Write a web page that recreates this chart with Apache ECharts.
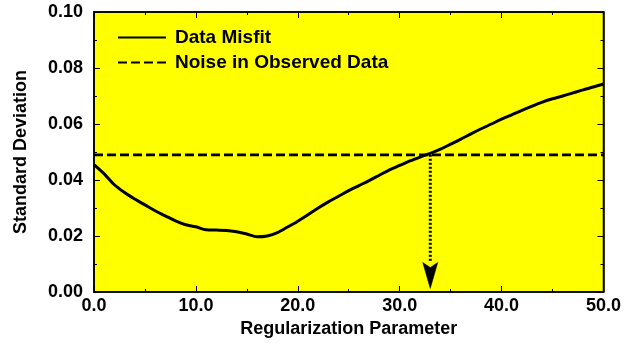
<!DOCTYPE html>
<html>
<head>
<meta charset="utf-8">
<script src="https://cdn.jsdelivr.net/npm/echarts@6/dist/echarts.min.js"></script>
<style>
  html, body { margin: 0; padding: 0; background: #ffffff; }
  #chart { width: 624px; height: 350px; }
</style>
</head>
<body>
<div id="chart"></div>
<script>
// Regularization parameter samples and the resulting data misfit
const regParam = [0, 1, 2, 3, 4, 5, 6, 7, 8, 9, 10, 11, 12, 13, 14, 15, 16, 17, 18, 19,
  20, 21, 22, 23, 24, 25, 26, 27, 28, 29, 30, 31, 32, 33, 34, 35, 36, 37, 38, 39,
  40, 41, 42, 43, 44, 45, 46, 47, 48, 49, 50];
const misfit = [0.0455, 0.0422, 0.0383, 0.0355, 0.0332, 0.0311, 0.0290, 0.0272, 0.0254, 0.0240,
  0.0233, 0.0222, 0.0221, 0.0220, 0.0215, 0.0207, 0.0197, 0.0200, 0.0212, 0.0232,
  0.0253, 0.0276, 0.0300, 0.0322, 0.0342, 0.0362, 0.0380, 0.0398, 0.0417, 0.0436,
  0.0452, 0.0468, 0.0482, 0.0495, 0.0510, 0.0528, 0.0546, 0.0565, 0.0583, 0.0600,
  0.0617, 0.0633, 0.0649, 0.0664, 0.0678, 0.0690, 0.0700, 0.0711, 0.0722, 0.0732, 0.0743];

// Standard deviation of the noise in the observed data
const noiseLevel = 0.049;
// Chosen regularization parameter (where misfit meets the noise level)
const chosenParam = 33.0;
// Where the dotted drop line stops and where the arrowhead sits
const shaftEnd = 0.0105;
const headCentre = 0.0059;

const xTicks = { min: 0, max: 50, step: 10 };
const yTicks = { min: 0, max: 0.10, step: 0.02 };

const seriesNames = ['Data Misfit', 'Noise in Observed Data'];

const FONT = '"Liberation Sans", Arial, Helvetica, sans-serif';
const labelStyle = { fontFamily: FONT, fontWeight: 'bold', fontSize: 18, color: '#000' };

const chart = echarts.init(document.getElementById('chart'), null, { renderer: 'canvas' });

const axisCommon = {
  axisLine: { show: true, onZero: false, lineStyle: { color: '#000', width: 1.5 } },
  axisTick: { show: true, inside: true, length: 6, lineStyle: { color: '#000', width: 1 } },
  minorTick: { show: true, splitNumber: 2, length: 3, lineStyle: { color: '#000', width: 1 } },
  splitLine: { show: false }
};

chart.setOption({
  animation: false,
  backgroundColor: '#ffffff',
  grid: {
    left: 94, right: 20, top: 12, bottom: 58,
    show: true, backgroundColor: '#ffff00', borderColor: '#000', borderWidth: 1.5
  },
  legend: {
    data: seriesNames,
    orient: 'vertical',
    left: 112,
    top: 23,
    itemWidth: 48,
    itemHeight: 18,
    itemGap: 6,
    itemStyle: { opacity: 0 },
    textStyle: Object.assign({}, labelStyle, { fontSize: 19, padding: [0, 0, 0, 4] })
  },
  xAxis: [
    Object.assign({
      type: 'value', position: 'bottom',
      min: xTicks.min, max: xTicks.max, interval: xTicks.step,
      name: 'Regularization Parameter',
      nameLocation: 'middle', nameGap: 26,
      nameTextStyle: labelStyle,
      axisLabel: Object.assign({}, labelStyle, {
        margin: 5,
        formatter: v => v.toFixed(1)
      })
    }, axisCommon),
    Object.assign({
      type: 'value', position: 'top',
      min: xTicks.min, max: xTicks.max, interval: xTicks.step,
      axisLabel: { show: false }
    }, axisCommon)
  ],
  yAxis: [
    Object.assign({
      type: 'value', position: 'left',
      min: yTicks.min, max: yTicks.max, interval: yTicks.step,
      name: 'Standard Deviation',
      nameLocation: 'middle', nameGap: 64,
      nameTextStyle: labelStyle,
      axisLabel: Object.assign({}, labelStyle, {
        margin: 11,
        formatter: v => v.toFixed(2)
      })
    }, axisCommon),
    Object.assign({
      type: 'value', position: 'right',
      min: yTicks.min, max: yTicks.max, interval: yTicks.step,
      axisLabel: { show: false }
    }, axisCommon)
  ],
  series: [
    {
      name: seriesNames[0],
      type: 'line',
      data: regParam.map((x, i) => [x, misfit[i]]),
      smooth: 0.3,
      showSymbol: false,
      symbol: 'none',
      lineStyle: { color: '#000', width: 3 },
      itemStyle: { color: '#000' },
      z: 5
    },
    {
      name: seriesNames[1],
      type: 'line',
      data: [[xTicks.min, noiseLevel], [xTicks.max, noiseLevel]],
      showSymbol: false,
      symbol: 'none',
      lineStyle: { color: '#000', width: 2.8, type: [9, 4] },
      itemStyle: { color: '#000' },
      z: 4
    },
    {
      // dotted drop line from the crossing point down towards the axis
      name: 'pointer',
      type: 'line',
      data: [[chosenParam, noiseLevel], [chosenParam, shaftEnd]],
      showSymbol: false,
      symbol: 'none',
      lineStyle: { color: '#000', width: 3, type: [2, 2] },
      z: 3
    },
    {
      name: 'pointer head',
      type: 'scatter',
      data: [[chosenParam, headCentre]],
      symbol: 'path://M0,0 L8,5 L16,0 L8,26 Z',
      symbolSize: [15, 26],
      itemStyle: { color: '#000000', opacity: 1, borderColor: '#000000', borderWidth: 0.5 },
      emphasis: { disabled: true },
      z: 6
    }
  ]
});
</script>
</body>
</html>
